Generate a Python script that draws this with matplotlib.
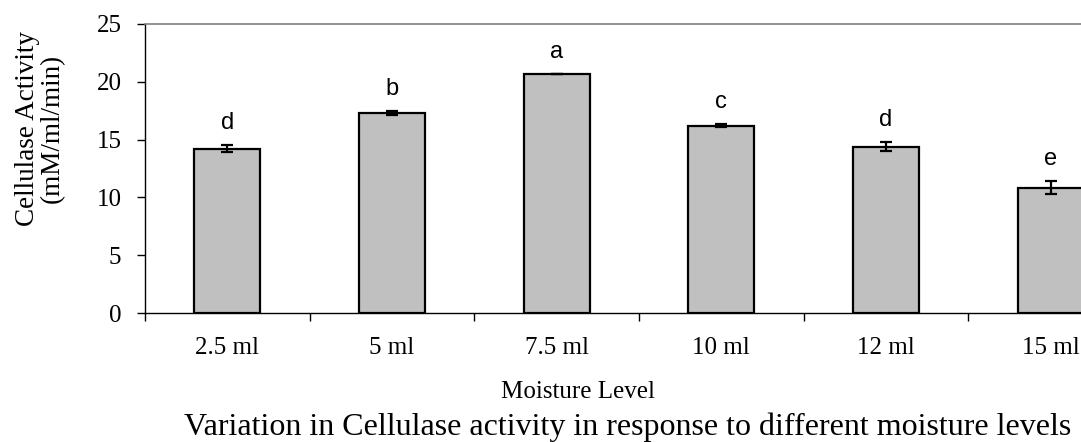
import matplotlib
matplotlib.use("Agg")
import matplotlib.pyplot as plt
import numpy as np

categories = ["2.5 ml", "5 ml", "7.5 ml", "10 ml", "12 ml", "15 ml"]
values = [14.2, 17.3, 20.7, 16.2, 14.4, 10.85]
errors = [0.3, 0.15, 0.0, 0.15, 0.4, 0.55]
letters = ["d", "b", "a", "c", "d", "e"]
yticks = [0, 5, 10, 15, 20, 25]

W, H = 1081, 442
fig = plt.figure(figsize=(W / 100, H / 100), dpi=100)
ax = fig.add_axes([145 / W, (H - 313) / H, 988 / W, (313 - 24) / H])

serif = "Liberation Serif"
sans = "Liberation Sans"

x = np.arange(len(categories))
ax.bar(x, values, width=0.4, color="#C0C0C0", edgecolor="black", linewidth=1.6, zorder=2)
ax.errorbar(x, values, yerr=errors, fmt="none", ecolor="black", elinewidth=1.6,
            capsize=4.5, capthick=1.6, zorder=3)
for xi, v, e, l in zip(x, values, errors, letters):
    ax.annotate(l, (xi, v + e), xytext=(0, 8), textcoords="offset points",
                ha="center", va="bottom", fontsize=17, family=sans)

ax.set_xlim(-0.5, len(categories) - 0.5)
ax.set_ylim(0, 25)
ax.set_yticks(yticks)
ax.set_yticklabels([str(t) for t in yticks], family=serif, fontsize=18)
ax.set_xticks(x)
ax.set_xticklabels(categories, family=serif, fontsize=18)
ax.tick_params(axis="x", which="major", length=0, pad=17)
ax.set_xticks(np.arange(-0.5, len(categories), 1.0), minor=True)
ax.tick_params(axis="x", which="minor", length=6, width=1, direction="out")
ax.tick_params(axis="y", length=6, width=1, direction="out", pad=11)

for s in ["left", "bottom"]:
    ax.spines[s].set_color("black")
    ax.spines[s].set_linewidth(1)
ax.spines["top"].set_color("#808080")
ax.spines["top"].set_linewidth(1.2)
ax.spines["right"].set_visible(False)

fig.text(40 / W, 1 - 128.5 / H, "Cellulase Activity\n(mM/ml/min)", family=serif, fontsize=19.5,
         rotation=90, ha="center", va="center", multialignment="center", linespacing=0.95)

fig.text(578 / W, 1 - 392 / H, "Moisture Level", family=serif, fontsize=18, ha="center", va="center")
fig.text(628 / W, 1 - 427 / H, "Variation in Cellulase activity in response to different moisture levels",
         family=serif, fontsize=23, ha="center", va="center")

fig.savefig("out.png", dpi=100)
